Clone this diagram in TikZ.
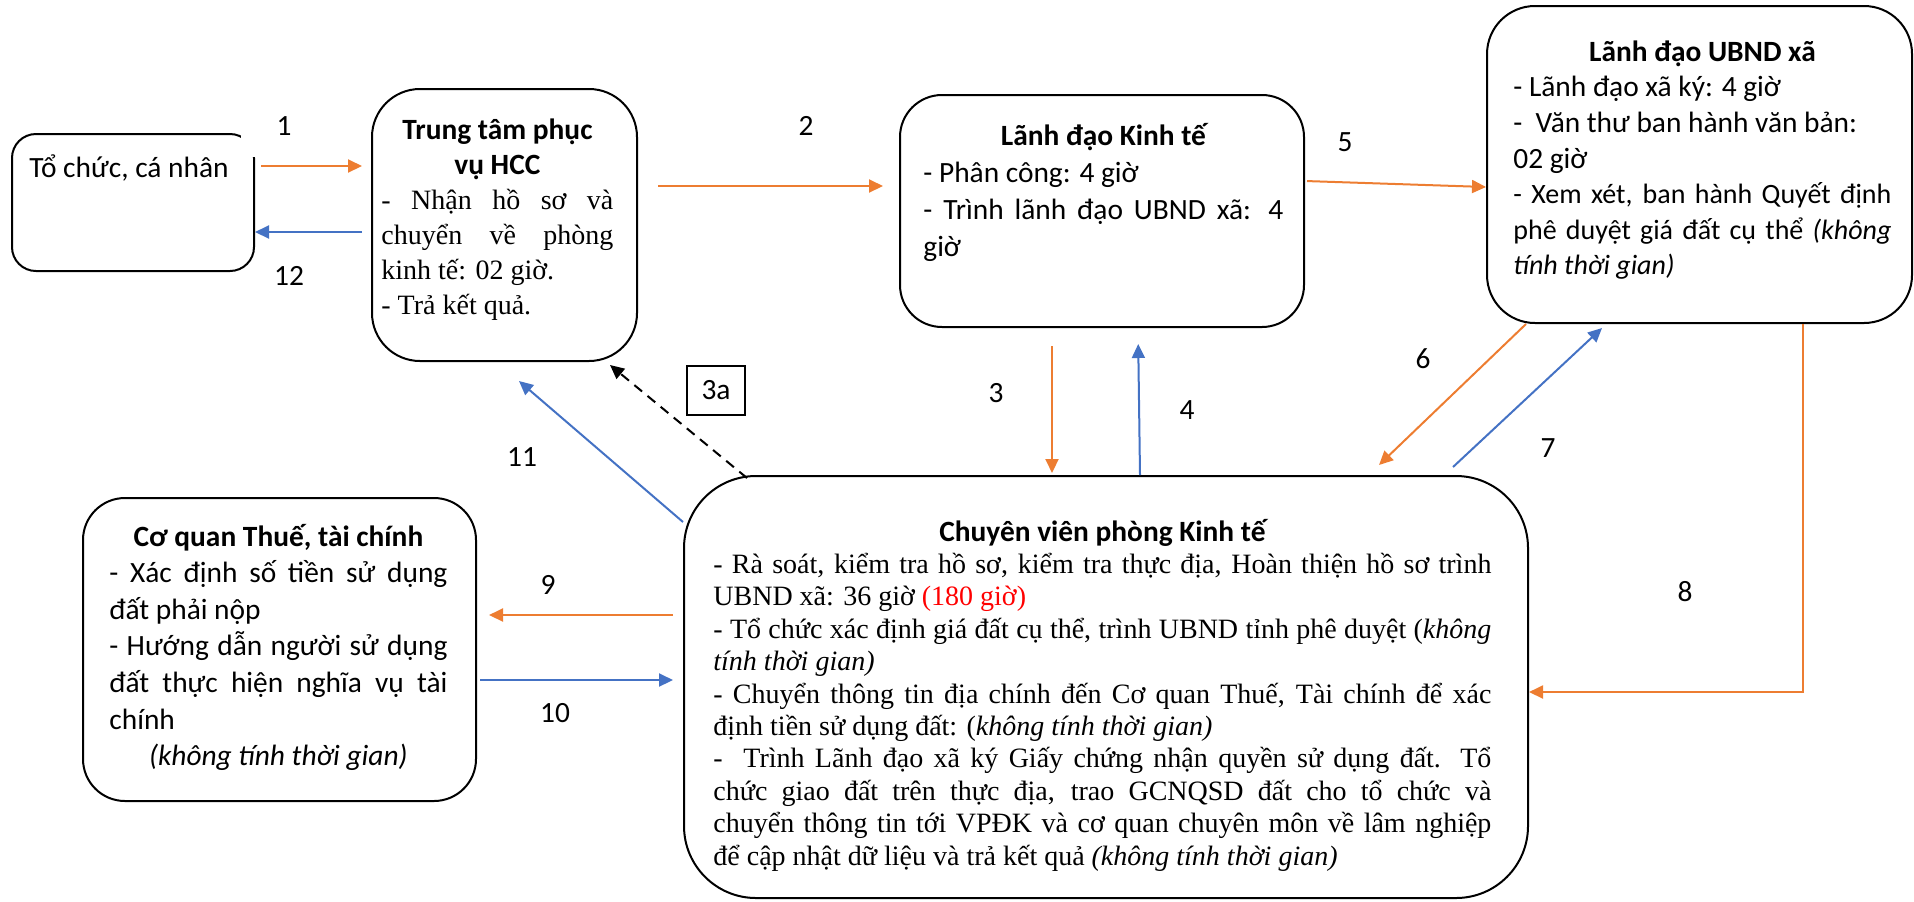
\documentclass[tikz,border=0pt]{standalone}
\usepackage{fontspec}
\setmainfont{Liberation Serif}
\newfontfamily\calfont{Carlito}
\usepackage{tikz}
\usetikzlibrary{arrows.meta}
\definecolor{qtor}{HTML}{ED7D31}
\definecolor{qtbl}{HTML}{4472C4}
\definecolor{qtred}{HTML}{FF0000}
\newcommand\calsz{\calfont\fontsize{14.7}{17.9}\selectfont}
\hyphenpenalty=10000
\exhyphenpenalty=10000
\tikzset{
  qbox/.style={draw=black, line width=1pt, inner sep=0pt},
  qtxt/.style={inner sep=0pt, align=justify},
  qnum/.style={inner sep=1pt, font=\calsz},
  qor/.style={draw=qtor, line width=1pt, -{Triangle[length=7pt,width=6.5pt]}},
  qbl/.style={draw=qtbl, line width=1pt, -{Triangle[length=7pt,width=6.5pt]}},
  qdash/.style={draw=black, line width=1pt, dash pattern=on 5pt off 3.5pt, -{Triangle[length=7pt,width=6.5pt]}}
}

\begin{document}
\begin{tikzpicture}[x=0.5pt, y=-0.5pt]
  \useasboundingbox (0,0) rectangle (1914,901);
  % boxes
  \node[qbox, rounded corners=12pt, minimum width=121pt, minimum height=68.5pt] (tcn) at (133,202.5) {};
  \node[qbox, rounded corners=24pt, minimum width=132.5pt, minimum height=136pt] (hcc) at (504.5,225) {};
  \node[qbox, rounded corners=21pt, minimum width=202pt, minimum height=116pt] (ldkt) at (1102,211) {};
  \node[qbox, rounded corners=24pt, minimum width=212.5pt, minimum height=158.5pt] (ldx) at (1699.5,164.5) {};
  \node[qbox, rounded corners=36pt, minimum width=422pt, minimum height=211pt] (cv) at (1106,687) {};
  \node[qbox, rounded corners=21pt, minimum width=196.5pt, minimum height=151.5pt] (thue) at (279.5,649.5) {};
  % box texts
  \node[inner sep=0pt, anchor=base west, font=\calsz] (tcntx) at ([shift={(18,44)}]tcn.north west) {Tổ chức, cá nhân};
  \node[qtxt, text width=116pt, anchor=base west] (hcctx) at ([shift={(10,51)}]hcc.north west)
    {{\calsz\bfseries\centering Trung tâm phục\\ vụ HCC\par}\fontsize{14}{17.4}\selectfont
     - Nhận hồ sơ và\linebreak chuyển về phòng\linebreak kinh tế: 02 giờ.\par - Trả kết quả.\par};
  \node[qtxt, text width=180pt, anchor=base west] (ldkttx) at ([shift={(24,51)}]ldkt.north west)
    {{\calsz\bfseries\centering Lãnh đạo Kinh tế\par}\calfont\fontsize{14.7}{18.5}\selectfont
     - Phân công: 4 giờ\par - Trình lãnh đạo UBND xã: 4\linebreak giờ\par};
  \node[qtxt, text width=189pt, anchor=base west] (ldxtx) at ([shift={(27,56)}]ldx.north west)
    {{\calsz\bfseries\centering Lãnh đạo UBND xã\par}\calsz
     - Lãnh đạo xã ký: 4 giờ\par -\ \ Văn thư ban hành văn bản:\\ 02 giờ\par
     {\fontsize{14}{17.7}\selectfont - Xem xét, ban hành Quyết định\linebreak phê duyệt giá đất cụ thể \textit{(không}\linebreak \textit{tính thời gian)}\par}};
  \node[qtxt, text width=389pt, anchor=base west] (cvtx) at ([shift={(30,66)}]cv.north west)
    {{\calsz\bfseries\centering Chuyên viên phòng Kinh tế\par}\fontsize{14}{16.2}\selectfont
     - Rà soát, kiểm tra hồ sơ, kiểm tra thực địa, Hoàn thiện hồ sơ trình\linebreak UBND xã: 36 giờ {\color{qtred}(180 giờ)}\par
     - Tổ chức xác định giá đất cụ thể, trình UBND tỉnh phê duyệt (\textit{không}\linebreak \textit{tính thời gian)}\par
     - Chuyển thông tin địa chính đến Cơ quan Thuế, Tài chính để xác\linebreak định tiền sử dụng đất: (\textit{không tính thời gian)}\par
     -\ \ Trình Lãnh đạo xã ký Giấy chứng nhận quyền sử dụng đất. Tổ\linebreak chức giao đất trên thực địa, trao GCNQSD đất cho tổ chức và\linebreak chuyển thông tin tới VPĐK và cơ quan chuyên môn về lâm nghiệp\linebreak để cập nhật dữ liệu và trả kết quả \textit{(không tính thời gian)}\par};
  \node[qtxt, text width=169pt, anchor=base west] (thuetx) at ([shift={(27,49)}]thue.north west)
    {{\calsz\bfseries\centering Cơ quan Thuế, tài chính\par}\calfont\fontsize{14.7}{18.3}\selectfont
     - Xác định số tiền sử dụng\linebreak đất phải nộp\par - Hướng dẫn người sử dụng\linebreak đất thực hiện nghĩa vụ tài\linebreak chính\par
     {\centering\itshape (không tính thời gian)\par}};
  % step numbers
  \node[qnum, fill=white, minimum width=43pt, minimum height=31pt] (n1) at (284,126) {1};
  \node[qnum] (n12) at (289,276) {12};
  \node[qnum] (n2) at (806,126) {2};
  \node[qnum] (n5) at (1345,142) {5};
  \node[qnum] (n3) at (996,393) {3};
  \node[qnum] (n4) at (1187,410) {4};
  \node[qnum] (n6) at (1423,359) {6};
  \node[qnum] (n7) at (1548,448) {7};
  \node[qnum] (n8) at (1685,592) {8};
  \node[qnum] (n9) at (548,585) {9};
  \node[qnum] (n10) at (555,713) {10};
  \node[qnum] (n11) at (522,457) {11};
  \node[qbox, font=\calsz, minimum width=29pt, minimum height=24.5pt] (n3a) at (716,390.5) {3a};
  % arrows
  \path[qor, shorten <=3pt, shorten >=4.5pt] (tcn.east |- 0,166) -- (hcc.west |- 0,166);
  \path[qbl, shorten <=4.5pt] (hcc.west |- 0,232) -- (tcn.east |- 0,232);
  \path[qor, shorten <=10pt, shorten >=8pt] (hcc.east |- 0,186) -- (ldkt.west |- 0,186);
  \path[qor, shorten <=1pt] (ldkt.east |- 0,181) -- (ldx.west |- 0,187);
  \path[qor, shorten <=9pt, shorten >=1pt] (ldkt.south -| 1052,0) -- (cv.north -| 1052,0);
  \path[qbl, shorten >=8pt] (cv.north -| 1140,0) -- (ldkt.south -| 1138,0);
  \path[qor] (ldx.south -| 1526,0) -- ([yshift=5pt]cv.north -| 1379,0);
  \path[qbl] ([yshift=4pt]cv.north -| 1453,0) -- ([yshift=-2pt]ldx.south -| 1602,0);
  \path[qor] (ldx.south -| 1803,0) |- (cv.east |- 0,692);
  \path[qor, shorten <=5pt, shorten >=6pt] (cv.west |- 0,615) -- (thue.east |- 0,615);
  \path[qbl, shorten <=1.5pt, shorten >=5pt] (thue.east |- 0,680) -- (cv.west |- 0,680);
  \path[qbl] (cv.west |- 0,522) -- ([yshift=-9.5pt]hcc.south -| 519,0);
  \path[qdash] ([yshift=-1.5pt]cv.north -| 747,0) -- ([yshift=-1.5pt]hcc.south -| 610,0);
\end{tikzpicture}
\end{document}
